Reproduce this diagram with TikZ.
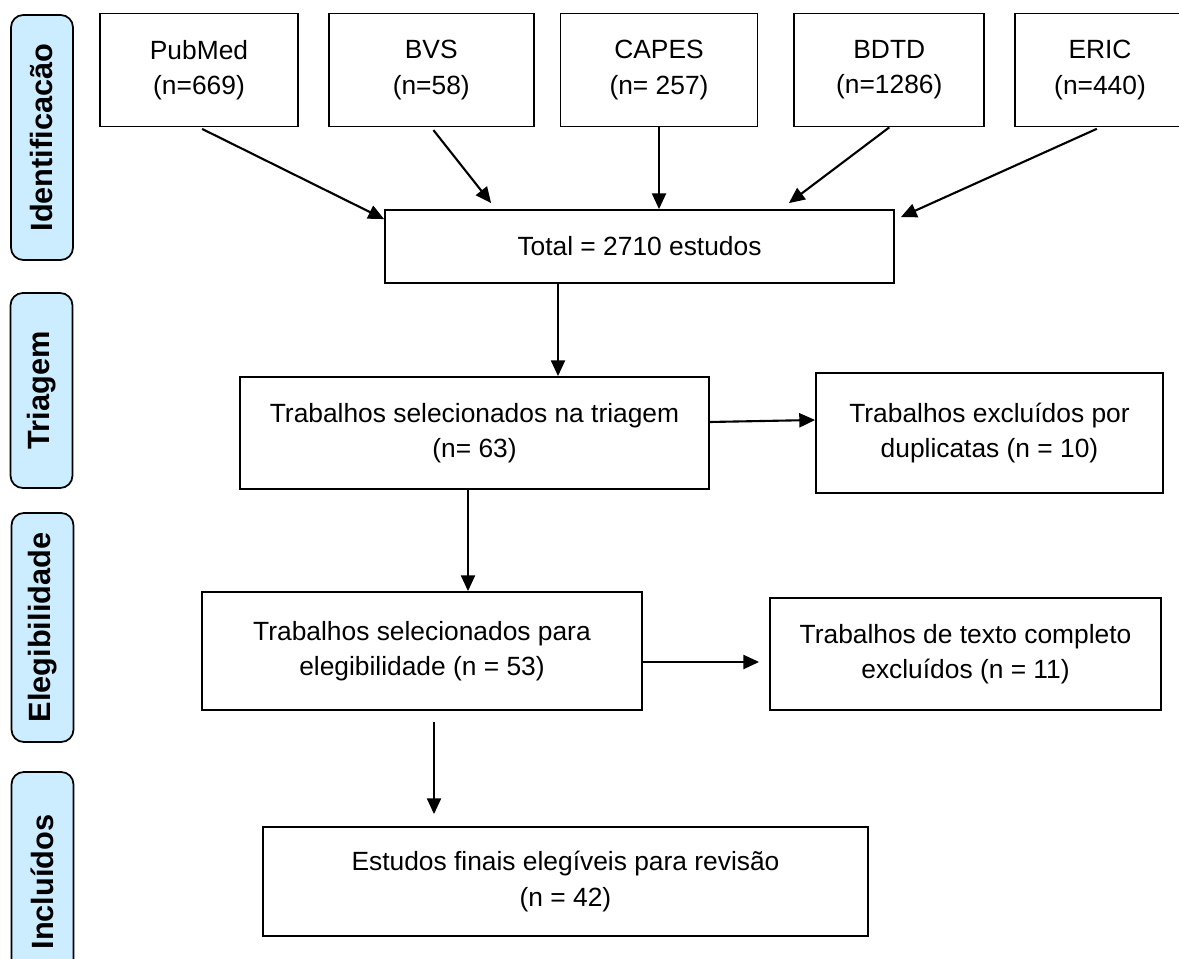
\documentclass[tikz,border=0pt]{standalone}
\usepackage{fontspec}
\setmainfont{Liberation Sans}
\usetikzlibrary{positioning,arrows.meta,calc}
\definecolor{cphase}{HTML}{CCECFF}

\begin{document}
\begin{tikzpicture}[>={Triangle[length=9pt,width=8pt]},node distance=0.58cm,
  box/.style={draw,line width=1pt,align=center,inner sep=2pt,
              font=\fontsize{15}{20}\selectfont},
  src/.style={box,minimum height=2.26cm},
  phase/.style={draw,line width=1pt,fill=cphase,rounded corners=7pt,rotate=90,
                minimum height=1.24cm,font=\fontsize{17.5}{20}\selectfont\bfseries},
  arr/.style={->,line width=1.2pt}]
\useasboundingbox (0,0) rectangle (23.58,-19.18);
% fases
\node[phase,minimum width=4.9cm] (pid) at (0.84,-2.75) {Identificacão};
\node[phase,minimum width=3.9cm] (ptri) at (0.83,-7.81) {Triagem};
\node[phase,minimum width=4.58cm] (pele) at (0.85,-12.55) {Elegibilidade};
\node[phase,minimum width=4.4cm] (pinc) at (0.85,-17.64) {Incluídos};
% bases
\node[src,minimum width=3.96cm] (pubmed) at (3.98,-1.4) {PubMed\\(n=669)};
\node[src,minimum width=4.1cm,right=of pubmed] (bvs) {BVS\\(n=58)};
\node[src,minimum width=3.94cm,right=0.5cm of bvs] (capes) {CAPES\\(n= 257)};
\node[src,minimum width=3.8cm,right=0.7cm of capes] (bdtd) {BDTD\\(n=1286)};
\node[src,minimum width=3.4cm,right=of bdtd] (eric) {ERIC\\(n=440)};
% fluxo
\node[box,minimum width=10.18cm,minimum height=1.46cm] (total) at (12.79,-4.93)
  {Total = 2710 estudos};
\node[box,minimum width=9.38cm,minimum height=2.24cm] (sel) at (9.49,-8.66)
  {Trabalhos selecionados na triagem\\(n= 63)};
\node[box,minimum width=6.94cm,minimum height=2.4cm] (dup) at (19.79,-8.66)
  {Trabalhos excluídos por\\duplicatas (n = 10)};
\node[box,minimum width=8.8cm,minimum height=2.36cm] (elig) at (8.44,-13.02)
  {Trabalhos selecionados para\\elegibilidade (n = 53)};
\node[box,minimum width=7.82cm,minimum height=2.24cm] (full) at (19.31,-13.08)
  {Trabalhos de texto completo\\excluídos (n = 11)};
\node[box,minimum width=12.1cm,minimum height=2.18cm] (final) at (11.31,-17.63)
  {Estudos finais elegíveis para revisão\\(n = 42)};
\draw[arr,shorten <=2pt] (pubmed.south) -- ([yshift=-0.2cm]total.north west);
\draw[arr,shorten <=2pt] (bvs.south) -- ([xshift=2.14cm,yshift=0.12cm]total.north west);
\draw[arr] (capes.south) -- (capes.south |- total.north);
\draw[arr] (bdtd.south) -- ([xshift=-2.12cm,yshift=0.12cm]total.north east);
\draw[arr,shorten <=2pt] (eric.south) -- ([xshift=0.12cm,yshift=-0.16cm]total.north east);
\draw[arr] ([xshift=-1.63cm]total.south) -- ([xshift=-1.63cm]total.south |- sel.north);
\draw[arr] ([yshift=0.22cm]sel.east) -- ([yshift=0.26cm]dup.west);
\draw[arr] ([xshift=-0.13cm]sel.south) -- ([xshift=-0.13cm]sel.south |- elig.north);
\draw[arr,shorten >=0.2cm] ([yshift=-0.22cm]elig.east) -- ([yshift=-0.22cm]elig.east -| full.west);
\draw[arr,shorten <=0.22cm,shorten >=0.24cm] ([xshift=0.24cm]elig.south)
  -- ([xshift=0.24cm]elig.south |- final.north);
\end{tikzpicture}
\end{document}
